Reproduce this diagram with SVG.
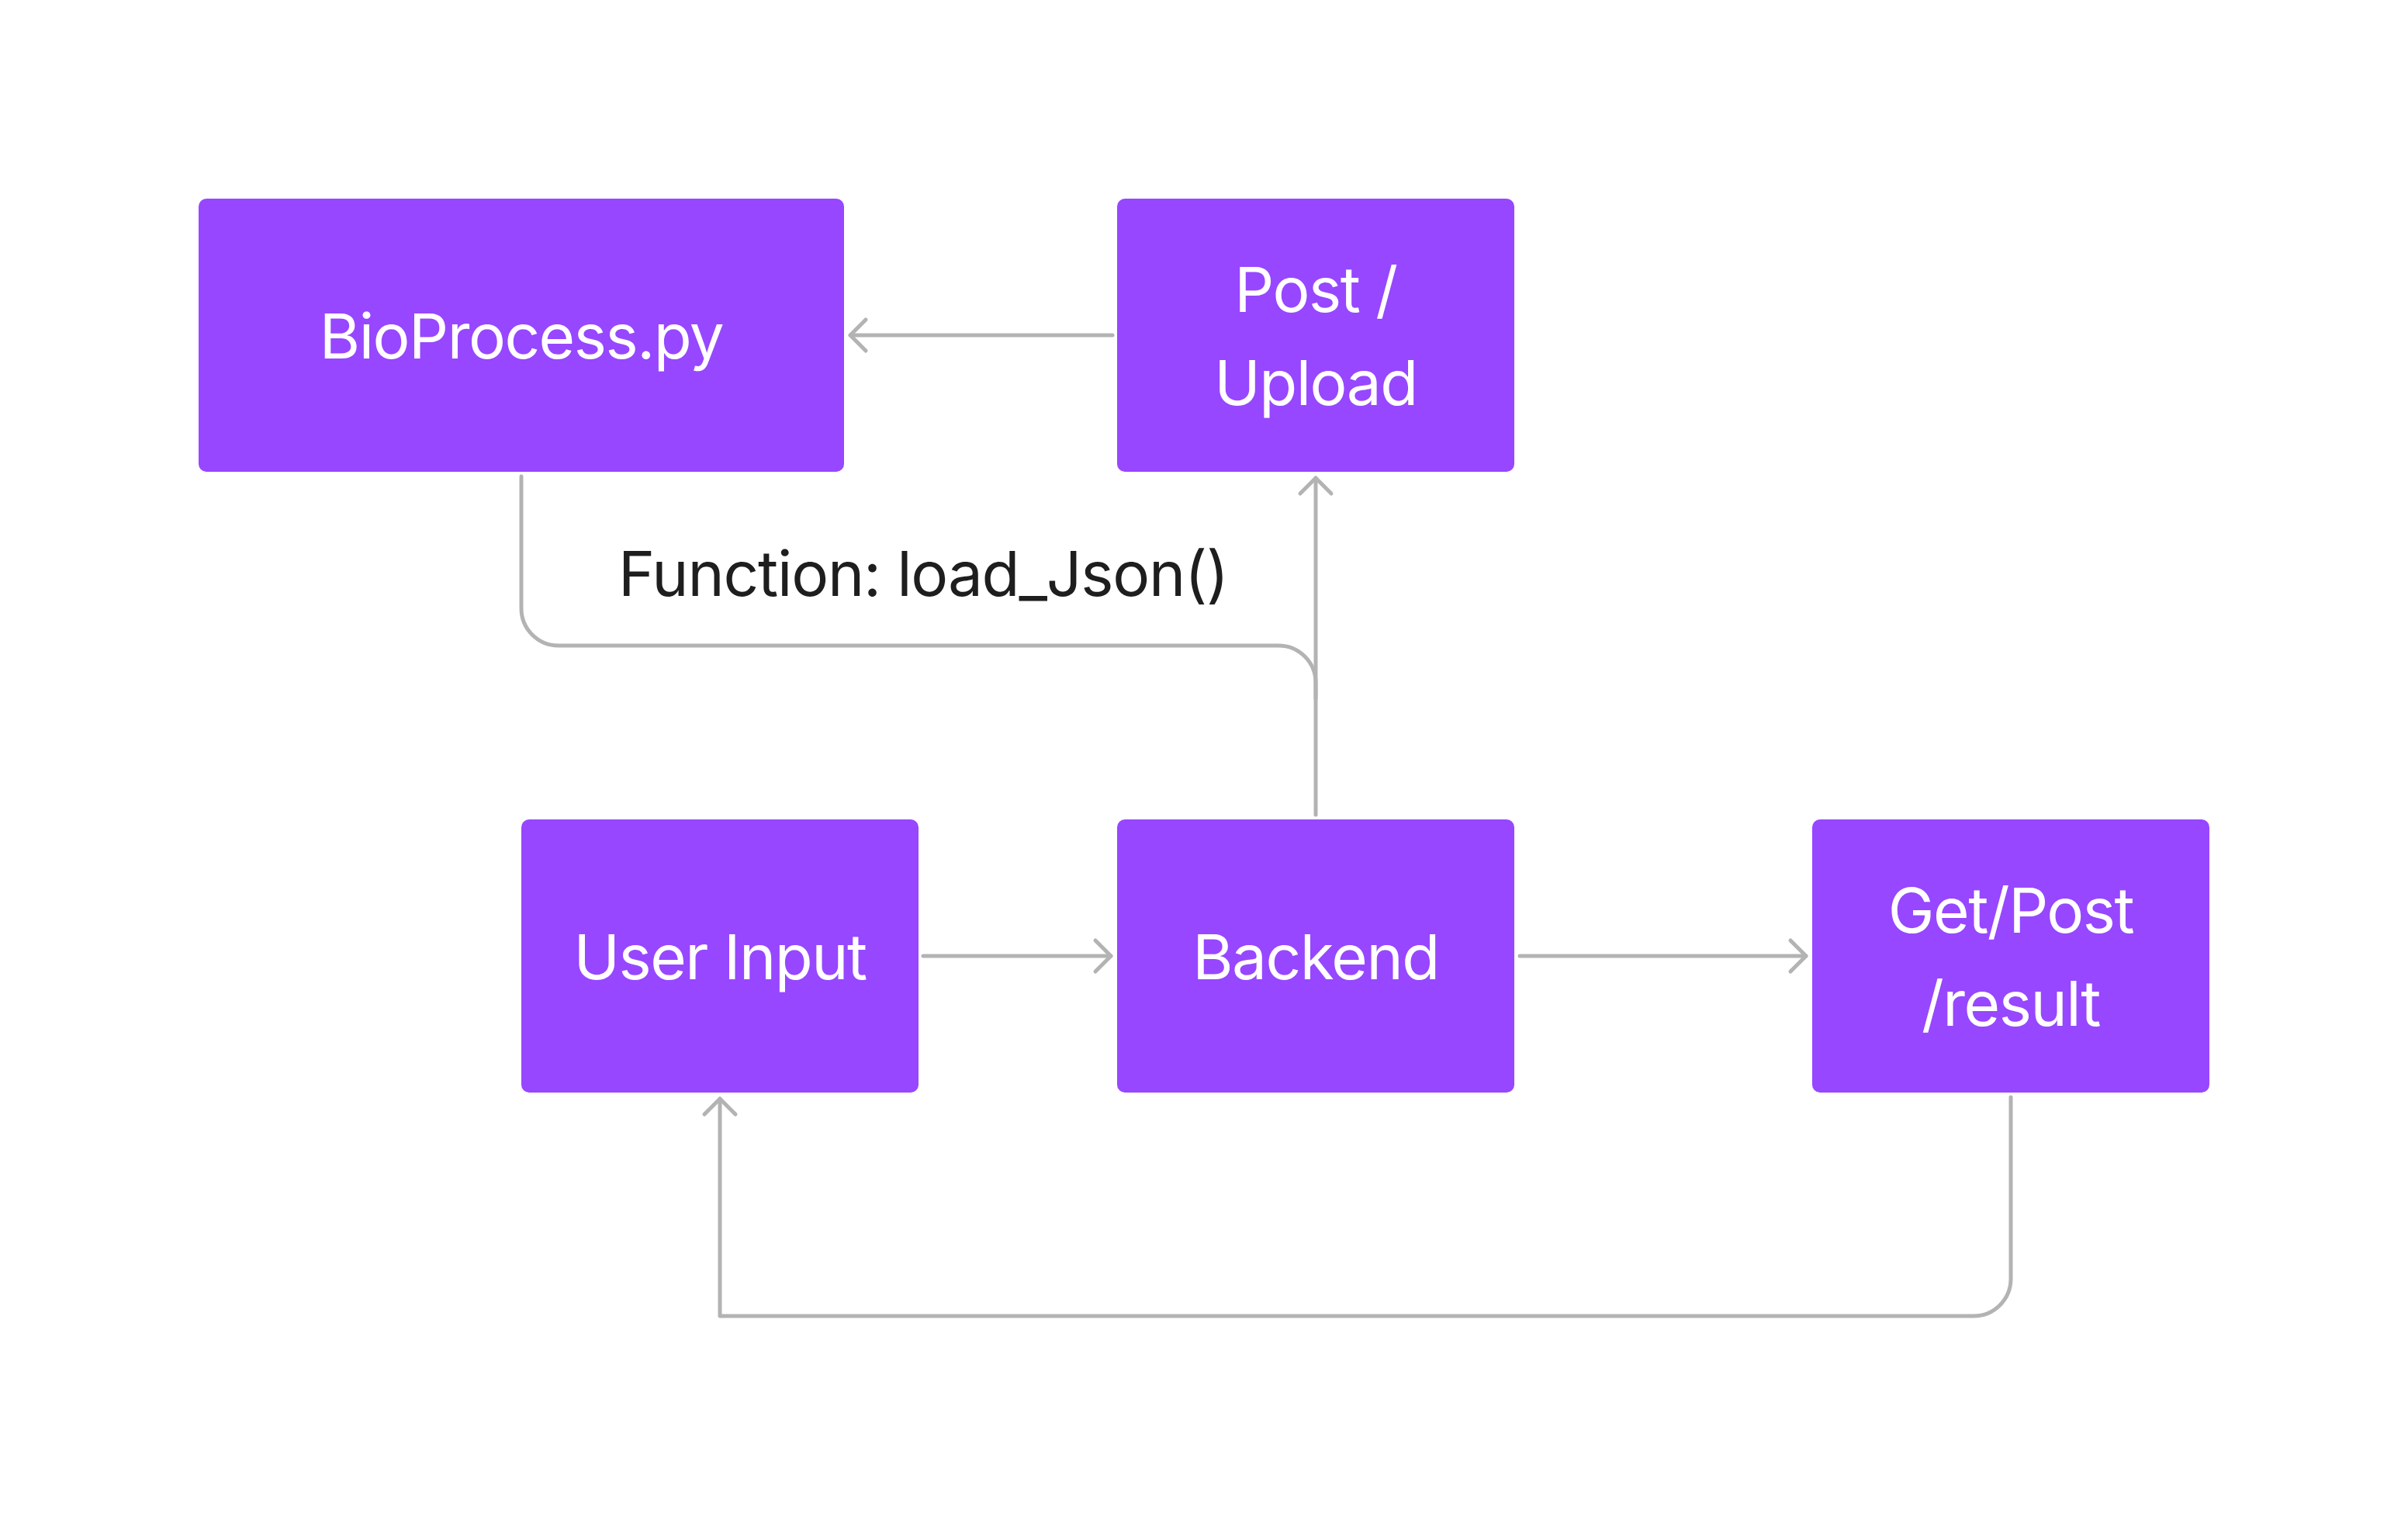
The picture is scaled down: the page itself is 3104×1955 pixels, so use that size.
<svg xmlns="http://www.w3.org/2000/svg" width="3104" height="1955" viewBox="0 0 3104 1955">
  <style>
    .box { fill: #9747ff; }
    .lbl { font-family: Inter, "Liberation Sans", sans-serif; font-size: 80px; letter-spacing: -1.5px; fill: #ffffff; text-anchor: middle; }
    .edge { fill: none; stroke: #b3b3b3; stroke-width: 5; stroke-linecap: round; stroke-linejoin: round; }
    .elbl { font-family: Inter, "Liberation Sans", sans-serif; font-size: 80px; letter-spacing: -1.2px; fill: #1e1e1e; text-anchor: middle; }
  </style>
  <defs>
    <marker id="arr" markerUnits="userSpaceOnUse" viewBox="-30 -30 40 60" refX="0" refY="0" markerWidth="40" markerHeight="60" orient="auto" overflow="visible">
      <path d="M-20,-20 L0,0 L-20,20" fill="none" stroke="#b3b3b3" stroke-width="5" stroke-linecap="round" stroke-linejoin="round"/>
    </marker>
  </defs>
  <rect width="3104" height="1955" fill="#ffffff"/>

  <g id="connectors">
    <path class="edge" d="M1434,432 H1096" marker-end="url(#arr)"/>
    <path class="edge" d="M1696,1050 V616" marker-end="url(#arr)"/>
    <path class="edge" d="M672,614 V784 A48,48 0 0 0 720,832 H1648 A48,48 0 0 1 1696,880 V900"/>
    <path class="edge" d="M1190,1232 H1432" marker-end="url(#arr)"/>
    <path class="edge" d="M1959,1232 H2328" marker-end="url(#arr)"/>
    <path class="edge" d="M2592,1414 V1648 A48,48 0 0 1 2544,1696 H928 V1416" marker-end="url(#arr)"/>
    <text class="elbl" x="1190" y="768">Function: load_Json()</text>
  </g>

  <g id="bioprocess">
    <rect class="box" x="256" y="256" width="832" height="352" rx="10"/>
    <text class="lbl" x="672" y="462">BioProcess.py</text>
  </g>
  <g id="post-upload">
    <rect class="box" x="1440" y="256" width="512" height="352" rx="10"/>
    <text class="lbl" x="1696" y="402">Post /</text>
    <text class="lbl" x="1696" y="522">Upload</text>
  </g>
  <g id="user-input">
    <rect class="box" x="672" y="1056" width="512" height="352" rx="10"/>
    <text class="lbl" x="928" y="1262">User Input</text>
  </g>
  <g id="backend">
    <rect class="box" x="1440" y="1056" width="512" height="352" rx="10"/>
    <text class="lbl" x="1696" y="1262">Backend</text>
  </g>
  <g id="get-post-result">
    <rect class="box" x="2336" y="1056" width="512" height="352" rx="10"/>
    <text class="lbl" x="2592" y="1202">Get/Post</text>
    <text class="lbl" x="2592" y="1322">/result</text>
  </g>
</svg>
